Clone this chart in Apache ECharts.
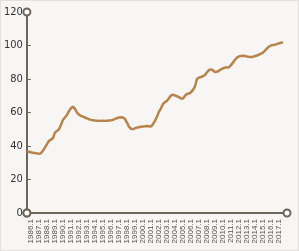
<!DOCTYPE html>
<html>
<head>
<meta charset="utf-8">
<script src="https://cdn.jsdelivr.net/npm/echarts@6/dist/echarts.min.js"></script>
<style>
html,body{margin:0;padding:0;background:#ffffff;}
#wrap{position:absolute;left:0;top:0;width:297px;height:249px;border:1px solid #e2e1df;background:#f7f6f4;}
#chart{width:297px;height:249px;}
</style>
</head>
<body>
<div id="wrap"><div id="chart"></div></div>
<script>
// Quarterly categories from 1985.3 to 2018.1
const categories = [];
(function(){
  categories.push('1985.3','1985.4');
  for (let y = 1986; y <= 2017; y++) for (let q = 1; q <= 4; q++) categories.push(y + '.' + q);
  categories.push('2018.1');
})();

const values = [
  36.8,36.6,36.3,36.0,35.8,35.6,35.4,35.6,37.2,39.0,
  41.0,43.0,43.8,44.6,48.0,49.0,49.8,52.5,55.5,57.0,
  58.5,60.8,62.5,63.5,62.3,60.0,58.8,58.0,57.5,57.0,
  56.5,56.0,55.6,55.4,55.2,55.1,55.1,55.0,55.1,55.0,
  55.1,55.2,55.3,55.6,56.2,56.6,57.0,57.1,57.0,56.2,
  54.0,51.5,50.3,50.0,50.6,51.0,51.2,51.5,51.7,51.8,
  52.0,51.8,51.6,53.0,55.0,57.5,60.5,62.5,65.0,66.2,
  66.9,68.5,70.2,70.6,70.2,69.7,69.2,68.4,68.3,70.0,
  71.0,71.3,72.0,73.5,75.5,80.0,80.8,81.2,81.7,82.4,
  84.0,85.3,85.8,85.2,84.2,84.3,85.0,85.8,86.4,86.8,
  86.8,87.0,88.3,89.8,91.5,92.8,93.5,93.8,93.9,93.7,
  93.4,93.2,93.1,93.3,93.7,94.0,94.6,95.2,95.8,97.0,
  98.3,99.4,100.0,100.3,100.5,100.9,101.3,101.6,101.9
];

const yTicks = [0, 20, 40, 60, 80, 100, 120];

const chart = echarts.init(document.getElementById('chart'), null, {renderer: 'canvas'});
chart.setOption({
  animation: false,
  backgroundColor: 'transparent',
  grid: {left: 23, right: 11, top: 11, bottom: 37, containLabel: false},
  xAxis: {
    type: 'category',
    data: categories,
    boundaryGap: false,
    axisLine: {show: true, lineStyle: {color: '#6e645a', width: 2}, symbol: ['emptyCircle', 'emptyCircle'], symbolSize: [7, 7]},
    axisTick: {show: false},
    axisLabel: {
      rotate: 90,
      fontSize: 8,
      fontFamily: 'Liberation Sans Narrow, sans-serif',
      color: '#555',
      margin: 6,
      interval: function (i, v) { return /\.1$/.test(v) && v !== '2018.1'; }
    },
    splitLine: {show: false}
  },
  yAxis: {
    type: 'value',
    min: yTicks[0],
    max: yTicks[yTicks.length - 1],
    interval: 20,
    axisLine: {show: true, lineStyle: {color: '#6e645a', width: 2}, symbol: ['emptyCircle', 'emptyCircle'], symbolSize: [7, 7]},
    axisTick: {show: true, inside: true, length: 4, lineStyle: {color: '#6e645a', width: 1}},
    axisLabel: {
      fontSize: 11,
      fontFamily: 'DejaVu Sans Condensed, Liberation Sans Narrow, sans-serif',
      color: '#333',
      margin: 4
    },
    splitLine: {show: false}
  },
  series: [{
    type: 'line',
    data: values,
    showSymbol: false,
    smooth: false,
    lineStyle: {color: '#b8844c', width: 2.5},
    itemStyle: {color: '#b8844c'}
  }]
});
</script>
</body>
</html>
